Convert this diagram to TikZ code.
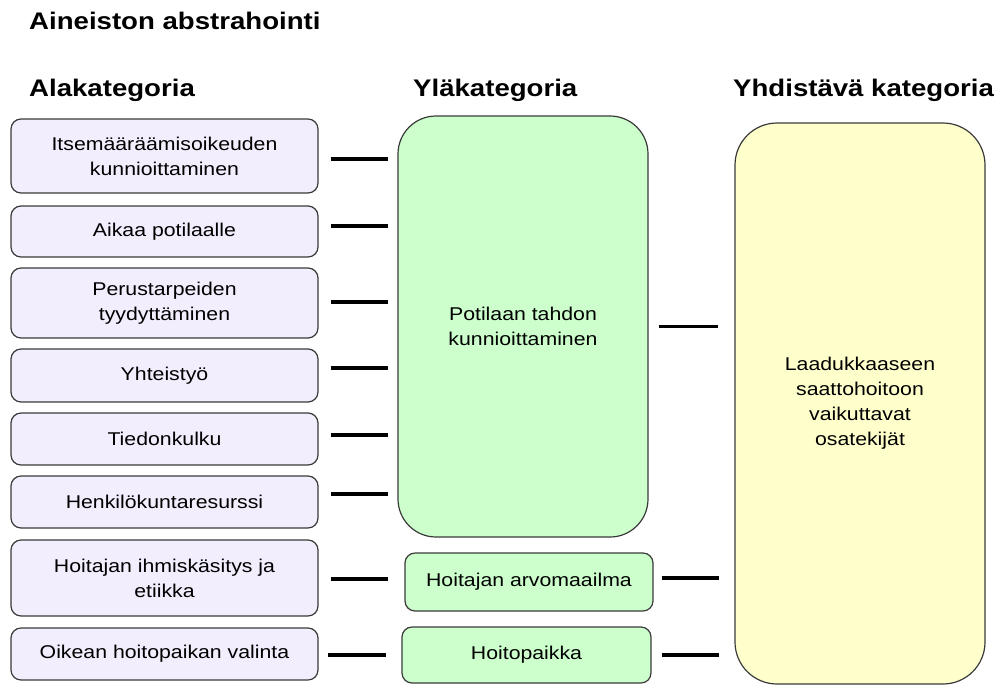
\documentclass[tikz,border=0pt]{standalone}
\usepackage{fontspec}
\setmainfont{Liberation Sans}[FakeStretch=1.15]
\definecolor{lav}{HTML}{F3EEFD}
\definecolor{grn}{HTML}{CCFFCC}
\definecolor{ylw}{HTML}{FFFFCC}
\definecolor{edge}{HTML}{3A3A3A}
\begin{document}
\begin{tikzpicture}[x=1pt,y=-1pt,
  box/.style={draw=edge, line width=1.2pt, rounded corners=10pt, inner sep=0pt, align=center,
    font=\fontsize{18.5}{25}\selectfont},
  subbox/.style={box, fill=lav, minimum width=307pt},
  upbox/.style={box, fill=grn},
  head/.style={anchor=base west, inner sep=0pt, font=\fontsize{24}{28}\selectfont\bfseries},
  conn/.style={line width=3.2pt, black}]
\useasboundingbox (0,0) rectangle (998,686);
% titles
\node[head] (title) at (29,29) {Aineiston abstrahointi};
\node[head] (hA) at (29,96) {Alakategoria};
\node[head] (hY) at (413,96) {Yläkategoria};
\node[head] (hC) at (733,96) {Yhdistävä kategoria};
% sub categories
\node[subbox, minimum height=74pt] (L1) at (164.5,156) {Itsemääräämisoikeuden\\kunnioittaminen};
\node[subbox, minimum height=51pt] (L2) at (164.5,231.5) {Aikaa potilaalle};
\node[subbox, minimum height=70pt] (L3) at (164.5,303) {Perustarpeiden\\tyydyttäminen};
\node[subbox, minimum height=53pt] (L4) at (164.5,375.5) {Yhteistyö};
\node[subbox, minimum height=52pt] (L5) at (164.5,439) {Tiedonkulku};
\node[subbox, minimum height=52pt] (L6) at (164.5,502) {Henkilökuntaresurssi};
\node[subbox, minimum height=76pt] (L7) at (164.5,578) {Hoitajan ihmiskäsitys ja\\etiikka};
\node[subbox, minimum height=52pt] (L8) at (164.5,654) {Oikean hoitopaikan valinta};
% upper categories
\node[upbox, rounded corners=38pt, minimum width=250pt, minimum height=421pt] (M) at (523,326.5) {Potilaan tahdon\\kunnioittaminen};
\node[upbox, minimum width=248pt, minimum height=58pt] (M2) at (529,582) {Hoitajan arvomaailma};
\node[upbox, minimum width=249pt, minimum height=56pt] (M3) at (526.5,655) {Hoitopaikka};
% combining category
\node[box, fill=ylw, rounded corners=42pt, minimum width=250pt, minimum height=561pt] (Y) at (860,403.5) {Laadukkaaseen\\saattohoitoon\\vaikuttavat\\osatekijät};
% connectors
\draw[conn, shorten <=12pt, shorten >=9pt] ([yshift=-3pt]L1.east) -- ([yshift=-3pt]L1.east -| M.west);
\draw[conn, shorten <=12pt, shorten >=9pt] ([yshift=5.5pt]L2.east) -- ([yshift=5.5pt]L2.east -| M.west);
\draw[conn, shorten <=12pt, shorten >=9pt] ([yshift=1pt]L3.east) -- ([yshift=1pt]L3.east -| M.west);
\draw[conn, shorten <=12pt, shorten >=9pt] ([yshift=7.5pt]L4.east) -- ([yshift=7.5pt]L4.east -| M.west);
\draw[conn, shorten <=12pt, shorten >=9pt] ([yshift=4pt]L5.east) -- ([yshift=4pt]L5.east -| M.west);
\draw[conn, shorten <=12pt, shorten >=9pt] ([yshift=8pt]L6.east) -- ([yshift=8pt]L6.east -| M.west);
\draw[conn, shorten <=12pt, shorten >=16pt] ([yshift=-1pt]L7.east) -- ([yshift=-1pt]L7.east -| M2.west);
\draw[conn, shorten <=9pt, shorten >=15pt] ([yshift=-1pt]L8.east) -- ([yshift=-1pt]L8.east -| M3.west);
\draw[conn, shorten <=10pt, shorten >=16pt] (M.east) -- (M.east -| Y.west);
\draw[conn, shorten <=8pt, shorten >=15pt] ([yshift=4pt]M2.east) -- ([yshift=4pt]M2.east -| Y.west);
\draw[conn, shorten <=10pt, shorten >=15pt] (M3.east) -- (M3.east -| Y.west);
\end{tikzpicture}
\end{document}
